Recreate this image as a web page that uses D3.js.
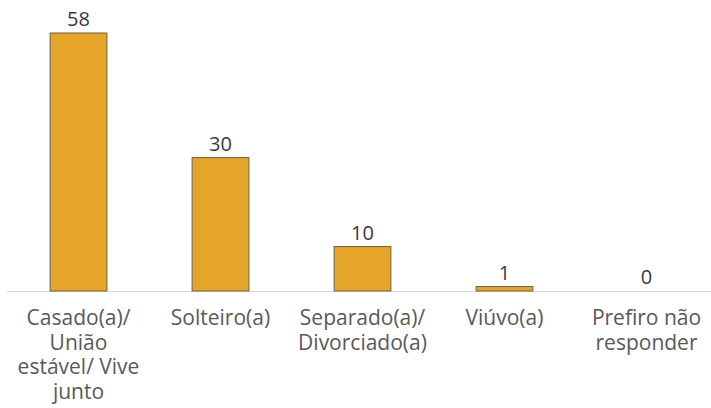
<!DOCTYPE html>
<html>
<head>
<meta charset="utf-8">
<script src="https://cdn.jsdelivr.net/npm/d3@7"></script>
<style>
  body { margin: 0; background: #fff; }
  svg { display: block; }
</style>
</head>
<body>
<svg id="chart" width="711" height="408"></svg>
<script>
const categories = [
  ["Casado(a)/", "União", "estável/ Vive", "junto"],
  ["Solteiro(a)"],
  ["Separado(a)/", "Divorciado(a)"],
  ["Viúvo(a)"],
  ["Prefiro não", "responder"],
];
const values = [58, 30, 10, 1, 0];

const WIDTH = 711;
const BASELINE = 291;
const FONT = "'Open Sans', sans-serif";

const svg = d3.select("#chart");

const x = d3.scaleBand()
  .domain(d3.range(values.length))
  .range([7.5, 717.5])
  .paddingInner(0.6)
  .paddingOuter(0.3);

const y = d3.scaleLinear()
  .domain([0, 58])
  .range([BASELINE, 33]);

svg.append("line")
  .attr("x1", 7)
  .attr("x2", WIDTH)
  .attr("y1", BASELINE + 0.5)
  .attr("y2", BASELINE + 0.5)
  .attr("stroke", "#d9d9d9")
  .attr("stroke-width", 1);

svg.selectAll("rect.bar")
  .data(values)
  .join("rect")
  .attr("class", "bar")
  .attr("x", (d, i) => x(i))
  .attr("y", (d) => y(d))
  .attr("width", x.bandwidth())
  .attr("height", (d) => BASELINE - y(d))
  .attr("fill", (d) => (d > 0 ? "#e5a52b" : "none"))
  .attr("stroke", (d) => (d > 0 ? "#6e6146" : "none"))
  .attr("stroke-width", 1);

svg.selectAll("text.value")
  .data(values)
  .join("text")
  .attr("class", "value")
  .attr("x", (d, i) => x(i) + x.bandwidth() / 2)
  .attr("y", (d) => y(d) - 7)
  .attr("text-anchor", "middle")
  .attr("font-family", FONT)
  .attr("font-size", 20)
  .attr("fill", "#3a3a3a")
  .text((d) => d);

const labels = svg.selectAll("text.cat")
  .data(categories)
  .join("text")
  .attr("class", "cat")
  .attr("text-anchor", "middle")
  .attr("font-family", FONT)
  .attr("font-size", 21)
  .attr("fill", "#595959");

labels.selectAll("tspan")
  .data((d, i) => d.map((line) => ({ line, i })))
  .join("tspan")
  .attr("x", (d) => x(d.i) + x.bandwidth() / 2)
  .attr("y", (d, j) => 325 + j * 24.5)
  .text((d) => d.line);
</script>
</body>
</html>
